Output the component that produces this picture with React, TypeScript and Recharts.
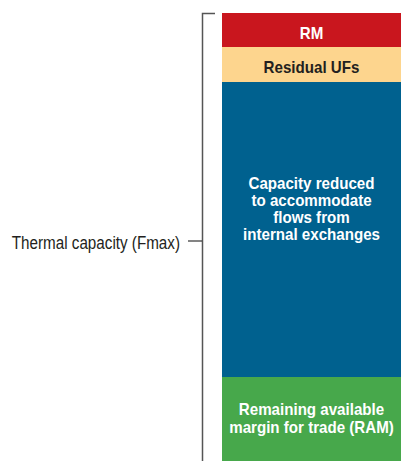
import { BarChart, Bar, XAxis, YAxis, LabelList } from "recharts";

const categories = ["Fmax"];
const ramValues = [84];
const capacityValues = [295];
const residualValues = [35];
const rmValues = [34];

const SEGMENTS = [
  { key: "ram", color: "#47a84b", text: "#ffffff", lines: ["Remaining available", "margin for trade (RAM)"], shift: -1.2 },
  { key: "capacity", color: "#00618f", text: "#ffffff", lines: ["Capacity reduced", "to accommodate", "flows from", "internal exchanges"], shift: -21.3 },
  { key: "residual", color: "#fdd58e", text: "#231f20", lines: ["Residual UFs"], shift: 2.5 },
  { key: "rm", color: "#c9161e", text: "#ffffff", lines: ["RM"], shift: 2.5 },
];

const FONT = "'Liberation Sans', Arial, sans-serif";
const LINE_H = 17.3;
const SQUEEZE = 0.89; // the original uses a narrow face

const data = categories.map((name, i) => ({
  name,
  ram: ramValues[i],
  capacity: capacityValues[i],
  residual: residualValues[i],
  rm: rmValues[i],
}));

function makeLabel(lines: string[], fill: string, shift: number) {
  // eslint-disable-next-line @typescript-eslint/no-explicit-any
  return (props: any) => {
    const { x, y, width, height } = props;
    const cx = Number(x) + Number(width) / 2;
    const cy = Number(y) + Number(height) / 2 + shift;
    const first = cy - ((lines.length - 1) * LINE_H) / 2;
    return (
      <g transform={`translate(${cx},0) scale(${SQUEEZE},1)`}>
        <text textAnchor="middle" fill={fill} fontFamily={FONT} fontWeight="bold" fontSize={17}>
          {lines.map((l, i) => (
            <tspan key={i} x={0} y={first + i * LINE_H} dominantBaseline="central">
              {l}
            </tspan>
          ))}
        </text>
      </g>
    );
  };
}

export default function App() {
  return (
    <div style={{ position: "absolute", left: 0, top: 0, width: 401, height: 461 }}>
      <BarChart
        width={401}
        height={461}
        data={data}
        margin={{ top: 13, right: 0, bottom: 0, left: 222 }}
        barCategoryGap={0}
      >
        <XAxis dataKey="name" hide />
        <YAxis hide domain={[0, 448]} />
        {SEGMENTS.map((s) => (
          <Bar key={s.key} dataKey={s.key} stackId="a" fill={s.color} isAnimationActive={false}>
            <LabelList dataKey={s.key} content={makeLabel(s.lines, s.text, s.shift)} />
          </Bar>
        ))}
      </BarChart>
      <svg
        width={401}
        height={461}
        style={{ position: "absolute", left: 0, top: 0, pointerEvents: "none" }}
      >
        <path d="M215 13.5 H202.5 V461" fill="none" stroke="#555" strokeWidth={1.5} />
        <line x1={188} y1={241} x2={202} y2={241} stroke="#333" strokeWidth={1.2} />
        <g transform="translate(180,0) scale(0.87,1)">
          <text
            x={0}
            y={242.5}
            textAnchor="end"
            dominantBaseline="central"
            fontFamily={FONT}
            fontSize={17.5}
            fill="#231f20"
          >
            Thermal capacity (Fmax)
          </text>
        </g>
      </svg>
    </div>
  );
}
